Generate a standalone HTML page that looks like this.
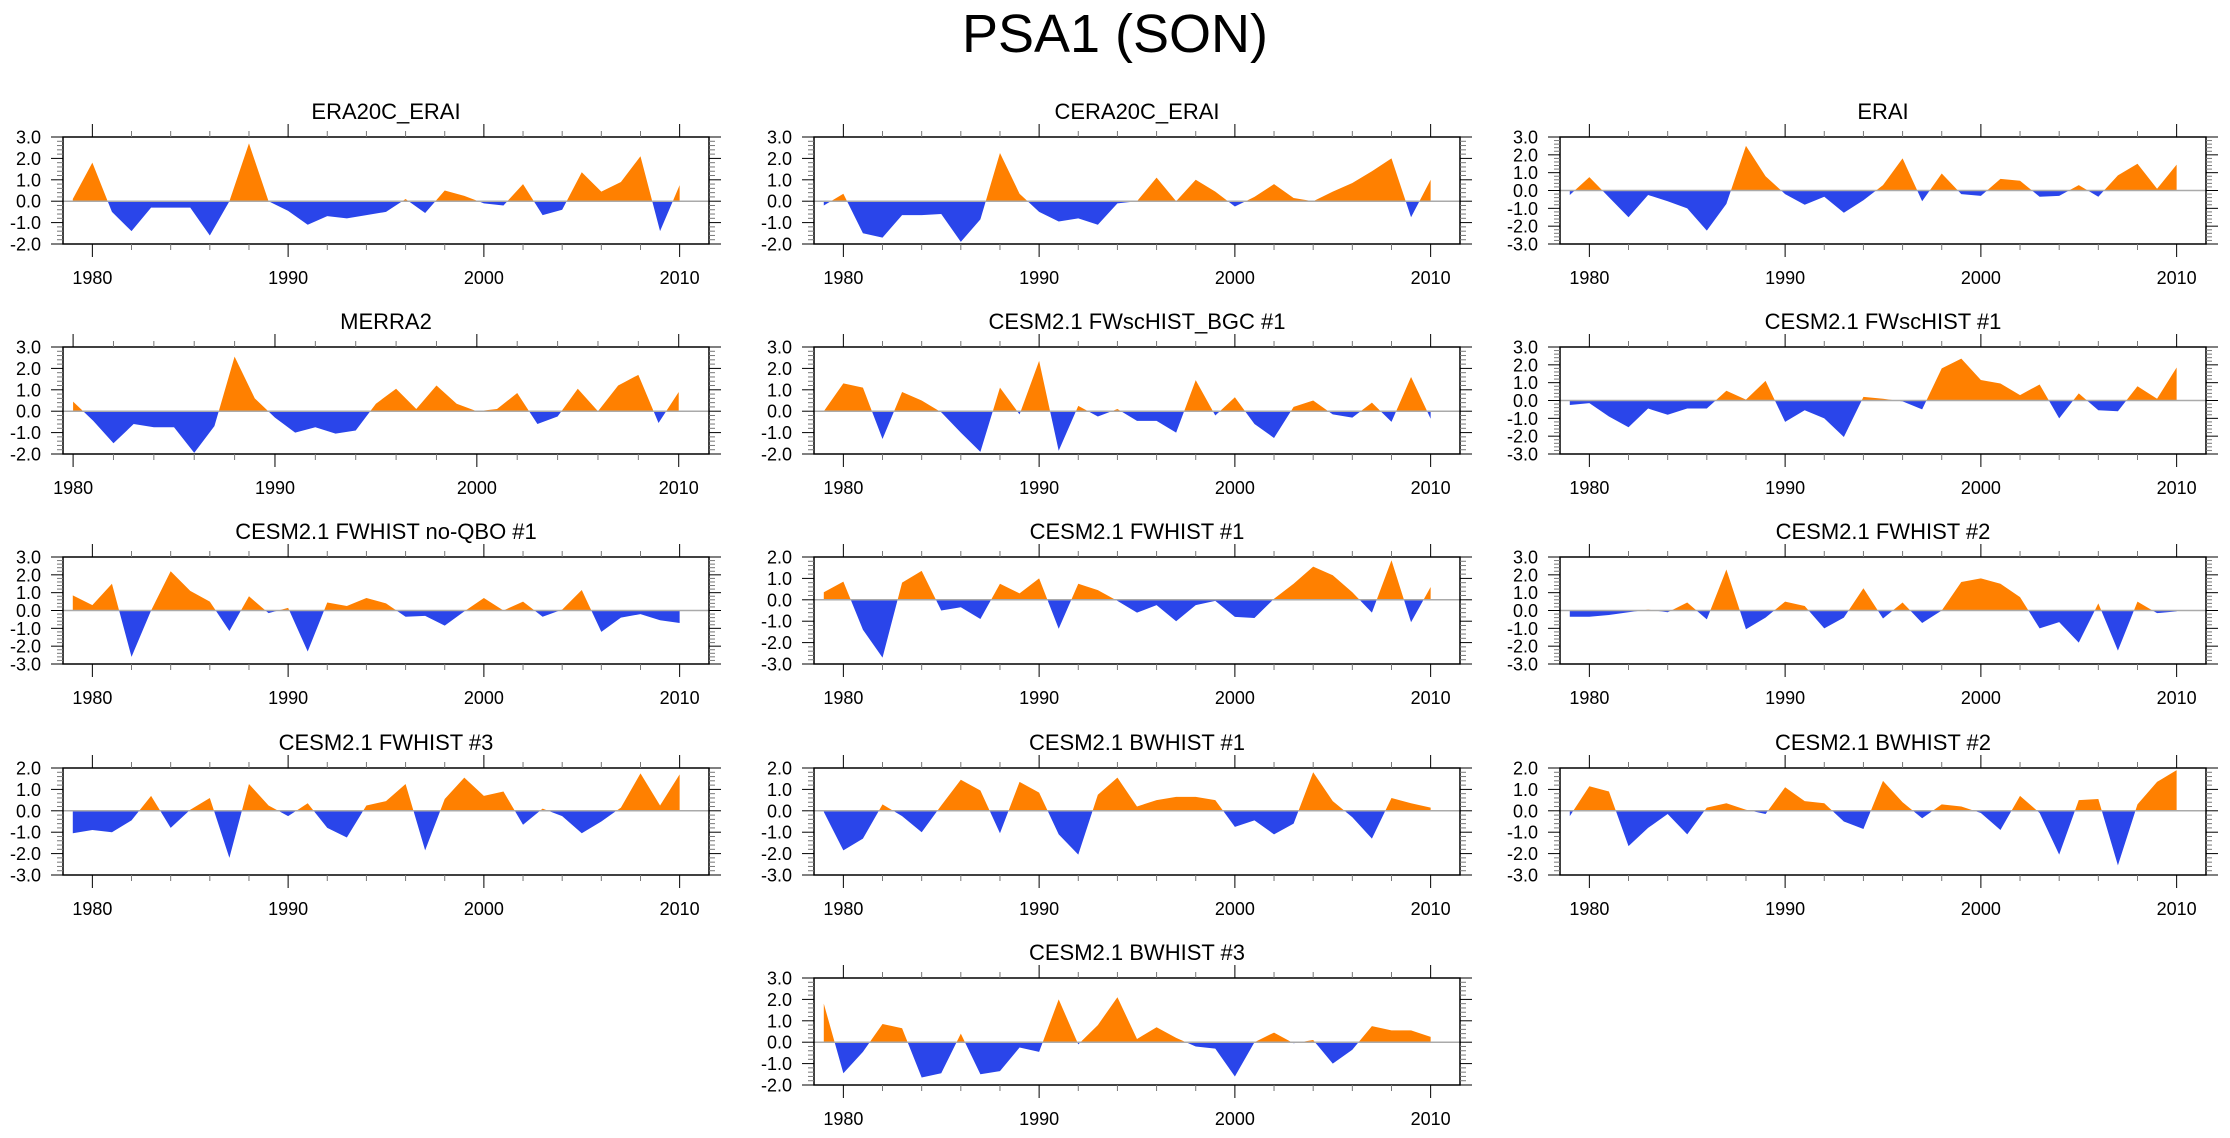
<!DOCTYPE html>
<html><head><meta charset="utf-8">
<style>
html,body{margin:0;padding:0;background:#fff;}
body{width:2230px;height:1133px;overflow:hidden;font-family:"Liberation Sans",sans-serif;}
</style></head>
<body>
<svg id="fig" width="2230" height="1133" xmlns="http://www.w3.org/2000/svg" font-family="Liberation Sans, sans-serif">
<text x="1115" y="52" font-size="54" text-anchor="middle">PSA1 (SON)</text>
</svg>
<script>
const titles = ["ERA20C_ERAI","CERA20C_ERAI","ERAI","MERRA2","CESM2.1 FWscHIST_BGC #1","CESM2.1 FWscHIST #1","CESM2.1 FWHIST no-QBO #1","CESM2.1 FWHIST #1","CESM2.1 FWHIST #2","CESM2.1 FWHIST #3","CESM2.1 BWHIST #1","CESM2.1 BWHIST #2","CESM2.1 BWHIST #3"];
const yMins = [-2,-2,-3,-2,-2,-3,-3,-3,-3,-3,-3,-3,-2];
const yMaxs = [3,3,3,3,3,3,3,2,3,2,2,2,3];
const startYears = [1979,1979,1979,1980,1979,1979,1979,1979,1979,1979,1979,1979,1979];
const xTickLabels = [1980,1990,2000,2010];
const s1 = [0.1,1.8,-0.5,-1.4,-0.3,-0.3,-0.3,-1.6,0.0,2.7,0.0,-0.45,-1.1,-0.7,-0.8,-0.65,-0.5,0.1,-0.55,0.5,0.25,-0.1,-0.2,0.8,-0.65,-0.4,1.35,0.45,0.9,2.1,-1.4,0.75];
const s2 = [-0.2,0.35,-1.5,-1.7,-0.65,-0.65,-0.6,-1.9,-0.85,2.25,0.35,-0.5,-0.95,-0.8,-1.1,-0.1,0.0,1.1,0.0,1.0,0.45,-0.25,0.2,0.8,0.15,0.0,0.45,0.85,1.4,2.0,-0.75,1.0];
const s3 = [-0.25,0.75,-0.375,-1.5,-0.25,-0.6,-1.0,-2.25,-0.75,2.5,0.8,-0.2,-0.8,-0.35,-1.25,-0.55,0.3,1.8,-0.6,0.95,-0.2,-0.3,0.65,0.55,-0.35,-0.3,0.3,-0.35,0.85,1.5,0.1,1.45];
const s4 = [0.45,-0.45,-1.5,-0.6,-0.75,-0.75,-1.95,-0.7,2.55,0.6,-0.3,-1.0,-0.75,-1.05,-0.9,0.35,1.05,0.1,1.2,0.35,0.0,0.1,0.85,-0.6,-0.25,1.05,0.0,1.2,1.7,-0.55,0.9];
const s5 = [0.0,1.3,1.1,-1.3,0.9,0.5,-0.05,-1.0,-1.9,1.1,-0.15,2.35,-1.85,0.25,-0.25,0.1,-0.45,-0.45,-1.0,1.45,-0.2,0.65,-0.6,-1.25,0.2,0.5,-0.15,-0.3,0.4,-0.5,1.6,-0.35];
const s6 = [-0.25,-0.15,-0.9,-1.5,-0.45,-0.8,-0.45,-0.45,0.55,0.05,1.1,-1.2,-0.55,-1.0,-2.05,0.2,0.1,-0.05,-0.5,1.8,2.35,1.15,0.95,0.3,0.9,-1.0,0.4,-0.55,-0.6,0.8,0.1,1.85];
const s7 = [0.85,0.3,1.5,-2.6,0.0,2.2,1.1,0.5,-1.15,0.8,-0.15,0.15,-2.3,0.45,0.25,0.7,0.4,-0.35,-0.3,-0.85,-0.05,0.7,0.0,0.5,-0.35,0.05,1.15,-1.2,-0.4,-0.2,-0.55,-0.7];
const s8 = [0.35,0.85,-1.4,-2.7,0.8,1.35,-0.5,-0.35,-0.9,0.75,0.3,1.0,-1.35,0.75,0.45,-0.05,-0.6,-0.25,-1.0,-0.25,-0.05,-0.8,-0.85,0.05,0.75,1.55,1.15,0.35,-0.6,1.85,-1.05,0.6];
const s9 = [-0.35,-0.35,-0.25,-0.1,0.05,-0.1,0.45,-0.5,2.3,-1.05,-0.4,0.5,0.25,-1.0,-0.4,1.25,-0.45,0.45,-0.7,0.0,1.6,1.8,1.5,0.75,-1.0,-0.65,-1.8,0.4,-2.25,0.5,-0.15,-0.05];
const s10 = [-1.05,-0.9,-1.0,-0.45,0.7,-0.8,0.05,0.6,-2.2,1.25,0.25,-0.25,0.35,-0.8,-1.25,0.25,0.45,1.25,-1.85,0.55,1.55,0.7,0.9,-0.65,0.1,-0.25,-1.05,-0.5,0.15,1.75,0.25,1.7];
const s11 = [-0.05,-1.85,-1.3,0.3,-0.25,-1.0,0.25,1.45,0.95,-1.05,1.35,0.85,-1.1,-2.05,0.75,1.55,0.2,0.5,0.65,0.65,0.5,-0.75,-0.45,-1.1,-0.6,1.8,0.45,-0.3,-1.3,0.6,0.35,0.15];
const s12 = [-0.25,1.15,0.9,-1.65,-0.8,-0.15,-1.1,0.15,0.35,0.05,-0.15,1.1,0.45,0.35,-0.5,-0.85,1.4,0.4,-0.35,0.3,0.2,-0.1,-0.9,0.7,-0.1,-2.05,0.5,0.55,-2.55,0.3,1.35,1.9];
const s13 = [1.8,-1.45,-0.45,0.85,0.65,-1.65,-1.45,0.4,-1.5,-1.35,-0.25,-0.45,2.0,-0.1,0.8,2.1,0.15,0.7,0.2,-0.2,-0.3,-1.6,0.0,0.45,-0.05,0.1,-1.0,-0.35,0.75,0.55,0.55,0.25];
const series = [s1,s2,s3,s4,s5,s6,s7,s8,s9,s10,s11,s12,s13];

const NS = "http://www.w3.org/2000/svg";
const svg = document.getElementById('fig');
const colX = [63,814,1560];
const rowY = [137,347,557,768,978];
const BW = 646, BH = 107;
function mk(tag, attrs, parent){const e=document.createElementNS(NS,tag);for(const k in attrs)e.setAttribute(k,attrs[k]);parent.appendChild(e);return e;}

series.forEach((vals, i) => {
  const col = i===12 ? 1 : i%3;
  const row = Math.floor(i/3);
  const L = colX[col], T = rowY[row];
  const x0 = startYears[i]===1980 ? 1979.5 : 1978.5, x1 = 2011.5;
  const ymin = yMins[i], ymax = yMaxs[i];
  const xs = yr => L + (yr - x0)/(x1 - x0)*BW;
  const ys = v => T + (ymax - v)/(ymax - ymin)*BH;
  const g = mk('g', {}, svg);
  
  
  const t = mk('text', {x: L+BW/2, y: T-18, 'font-size': 22, 'text-anchor':'middle'}, g);
  
  
  t.textContent = titles[i];
  const z = ys(0);
  const defs = mk('defs', {}, g);
  const cpA = mk('clipPath', {id:'ca'+i}, defs);
  mk('rect', {x:L, y:T, width:BW, height:z-T}, cpA);
  const cpB = mk('clipPath', {id:'cb'+i}, defs);
  mk('rect', {x:L, y:z, width:BW, height:T+BH-z}, cpB);
  let d = 'M' + xs(startYears[i]) + ' ' + z;
  vals.forEach((v,k) => { d += ' L' + xs(startYears[i]+k).toFixed(2) + ' ' + ys(v).toFixed(2); });
  d += ' L' + xs(startYears[i]+vals.length-1) + ' ' + z + ' Z';
  const pos = mk('path', {d:d, fill:'#ff8000', 'clip-path':'url(#ca'+i+')'}, g);
  
  
  const neg = mk('path', {d:d, fill:'#2a45ea', 'clip-path':'url(#cb'+i+')'}, g);
  
  
  const zl = mk('line', {x1:L, x2:L+BW, y1:z, y2:z, stroke:'#aaa', 'stroke-width':1.5}, g);
  
  
  const box = mk('rect', {x:L, y:T, width:BW, height:BH, fill:'none', stroke:'#000', 'stroke-width':1.5}, g);
  
  
  for (let v = ymin; v <= ymax + 1e-6; v += 0.2) {
    const major = Math.abs(v - Math.round(v)) < 1e-6;
    const yy = ys(v);
    const len = major ? 12 : 6;
    mk('line', {x1:L-len, x2:L, y1:yy, y2:yy, stroke: major?'#000':'#777', 'stroke-width':1}, g);
    mk('line', {x1:L+BW, x2:L+BW+len, y1:yy, y2:yy, stroke: major?'#000':'#777', 'stroke-width':1}, g);
    if (major) {
      const lb = mk('text', {x:L-22, y:yy+6.5, 'font-size':18, 'text-anchor':'end'}, g);
      
      
      lb.textContent = Math.round(v).toFixed(1);
    }
  }
  for (let yr = 1980; yr <= 2010; yr += 2) {
    const major = yr % 10 === 0;
    const xx = xs(yr);
    const len = major ? 13 : 6;
    mk('line', {x1:xx, x2:xx, y1:T-len, y2:T, stroke: major?'#000':'#777', 'stroke-width':1}, g);
    mk('line', {x1:xx, x2:xx, y1:T+BH, y2:T+BH+len, stroke: major?'#000':'#777', 'stroke-width':1}, g);
  }
  xTickLabels.forEach(yr => {
    const lb = mk('text', {x:xs(yr), y:T+BH+40, 'font-size':18, 'text-anchor':'middle'}, g);
    
    
    lb.textContent = yr;
  });
});
</script>
</body></html>
